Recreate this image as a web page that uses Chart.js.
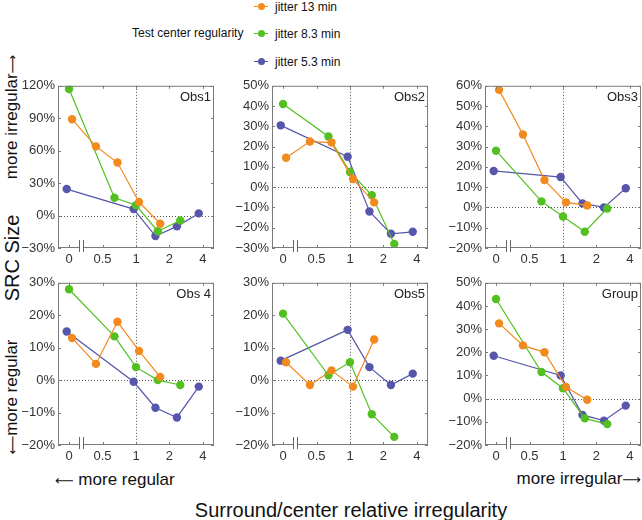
<!DOCTYPE html>
<html>
<head>
<meta charset="utf-8">
<script src="https://cdn.jsdelivr.net/npm/chart.js@4.4.1/dist/chart.umd.min.js"></script>
<style>
  body { margin: 0; background: #fff; }
  #wrap { position: relative; width: 642px; height: 520px; overflow: hidden;
          font-family: "Liberation Sans", Helvetica, Arial, sans-serif; color: #111; }
  canvas { position: absolute; }
  .txt { position: absolute; white-space: nowrap; }
  .rot { transform: translate(-50%, -50%) rotate(-90deg); }
  .ctr { transform: translate(-50%, -50%); }
  .arr { font-family: "DejaVu Sans", sans-serif; font-size: 13px; }
  .leg { position: absolute; font-size: 12px; white-space: nowrap; transform: translateY(-50%); }
  .mk { position: absolute; width: 14px; height: 1.5px; }
  .dot { position: absolute; width: 7px; height: 7px; border-radius: 50%; }
</style>
</head>
<body>
<div id="wrap">
  <div class="txt" style="left:132px; top:33px; font-size:12px; transform:translateY(-50%)">Test center regularity</div>
  <div id="legend"></div>

  <div class="txt rot" style="left:12px; top:117px; font-size:17px">more irregular<span class="arr">⟶</span></div>
  <div class="txt rot" style="left:12px; top:258px; font-size:20px">SRC Size</div>
  <div class="txt rot" style="left:12px; top:397px; font-size:17px"><span class="arr">⟵</span>more regular</div>

  <div class="txt" style="left:55px; top:480px; font-size:17px; transform:translateY(-50%)"><span class="arr">⟵</span> more regular</div>
  <div class="txt" style="right:1px; top:479px; font-size:17px; transform:translateY(-50%)">more irregular<span class="arr">⟶</span></div>
  <div class="txt ctr" style="left:351px; top:510px; font-size:20px">Surround/center relative irregularity</div>
</div>
<script>
// x axis: tick labels (surround/center jitter ratio), placed at equal steps
const xTickLabels = ['0', '0.5', '1', '2', '4'];

const seriesNames = ['jitter 13 min', 'jitter 8.3 min', 'jitter 5.3 min'];
const seriesColors = ['#f28a1e', '#52c020', '#5656aa'];
// small sideways shift of each series so markers don't sit on each other
const seriesShift = [0.09, 0, -0.07];

// surround/center jitter ratio of each point, per series
const xOrange = [0, 0.41, 0.64, 1, 1.55];
const xGreen = [0, 0.64, 1, 1.57, 2.5];
const xBlue = [0, 1, 1.57, 2.45, 3.85];

// SRC size (%)
const obs1Orange = [89, 64, 49, 12.5, -7.5];
const obs1Green = [117, 16.5, 9.5, -14.5, -4.5];
const obs1Blue = [24.5, 6, -19, -10, 2];

const obs2Orange = [14.5, 22.5, 22, 4, -7.5];
const obs2Green = [41, 25, 7.5, -4, -28];
const obs2Blue = [30.5, 15, -12, -23, -22];

const obs3Orange = [58, 36, 13.5, 2.5, 1];
const obs3Green = [28, 3, -4.5, -12, -0.5];
const obs3Blue = [18, 15, 2, 0, 9.5];

const obs4Orange = [13, 5, 18, 9, 1];
const obs4Green = [28, 13.5, 4, 0, -1.5];
const obs4Blue = [15, -0.5, -8.5, -11.5, -2];

const obs5Orange = [5.5, -1.5, 3, -2, 12.5];
const obs5Green = [20.5, 1.5, 5.5, -10.5, -17.5];
const obs5Blue = [6, 15.5, 4, -1.5, 2];

const groupOrange = [32.5, 23, 20, 5, -0.5];
const groupGreen = [43, 11.5, 4.5, -8.5, -11];
const groupBlue = [18.5, 10, -7, -9.5, -3];

const panelNames = ['Obs1', 'Obs2', 'Obs3', 'Obs 4', 'Obs5', 'Group'];
const panelYMin = [-30, -30, -20, -20, -20, -20];
const panelYMax = [120, 50, 60, 30, 30, 50];
const panelYStep = [30, 10, 10, 10, 10, 10];
const panelSeries = [
  [obs1Orange, obs1Green, obs1Blue],
  [obs2Orange, obs2Green, obs2Blue],
  [obs3Orange, obs3Green, obs3Blue],
  [obs4Orange, obs4Green, obs4Blue],
  [obs5Orange, obs5Green, obs5Blue],
  [groupOrange, groupGreen, groupBlue],
];
const seriesX = [xOrange, xGreen, xBlue];

// layout
const colLeft = [58, 272, 485];
const rowTop = [85, 282];
const plotW = 156, plotH = 163;
const padL = 50, padT = 10, padR = 6, padB = 30;

// ratio -> axis position (0 sits one step left of 0.5, the rest is log2)
const toAxis = r => r === 0 ? 0 : Math.log2(r) + 2;

const font = { family: '"Liberation Sans", Helvetica, Arial, sans-serif', size: 13 };

// legend
const legend = document.getElementById('legend');
seriesNames.forEach((name, i) => {
  const y = [6, 33, 61][i];
  legend.insertAdjacentHTML('beforeend',
    `<div class="mk" style="left:254px; top:${y - 0.5}px; background:${seriesColors[i]}"></div>` +
    `<div class="dot" style="left:258px; top:${y - 3}px; background:${seriesColors[i]}"></div>` +
    `<div class="leg" style="left:275px; top:${y + 1}px">${name}</div>`);
});

const framePlugin = {
  id: 'frame',
  beforeDatasetsDraw(chart) {
    const { ctx, chartArea: a, scales: { x, y } } = chart;
    ctx.save();
    ctx.strokeStyle = '#555';
    ctx.lineWidth = 1;
    ctx.setLineDash([1, 2]);
    const px = Math.round(x.getPixelForValue(toAxis(1))) + 0.5;
    const py = Math.round(y.getPixelForValue(0)) + 0.5;
    ctx.beginPath();
    ctx.moveTo(px, a.top); ctx.lineTo(px, a.bottom);
    ctx.moveTo(a.left, py); ctx.lineTo(a.right, py);
    ctx.stroke();
    ctx.restore();
  },
  afterDraw(chart) {
    const { ctx, chartArea: a, scales: { x, y } } = chart;
    ctx.save();
    ctx.strokeStyle = '#7a7a7a';
    ctx.lineWidth = 1;
    ctx.strokeRect(a.left + 0.5, a.top + 0.5, a.right - a.left - 1, a.bottom - a.top - 1);
    ctx.beginPath();
    x.ticks.forEach(t => {
      const px = Math.round(x.getPixelForValue(t.value)) + 0.5;
      ctx.moveTo(px, a.bottom); ctx.lineTo(px, a.bottom - 3);
      ctx.moveTo(px, a.top); ctx.lineTo(px, a.top + 3);
    });
    y.ticks.forEach(t => {
      const py = Math.round(y.getPixelForValue(t.value)) + 0.5;
      ctx.moveTo(a.left, py); ctx.lineTo(a.left + 3, py);
      ctx.moveTo(a.right, py); ctx.lineTo(a.right - 3, py);
    });
    ctx.stroke();

    // axis break mark
    const bx = Math.round(x.getPixelForValue(0.36));
    ctx.fillStyle = '#fff';
    ctx.fillRect(bx - 2, a.bottom - 2, 4, 3);
    ctx.strokeStyle = '#666';
    ctx.beginPath();
    ctx.moveTo(bx - 1.5, a.bottom - 8); ctx.lineTo(bx - 1.5, a.bottom + 4);
    ctx.moveTo(bx + 2.5, a.bottom - 8); ctx.lineTo(bx + 2.5, a.bottom + 4);
    ctx.stroke();

    // panel name
    ctx.fillStyle = '#222';
    ctx.font = `13px ${font.family}`;
    ctx.textAlign = 'right';
    ctx.textBaseline = 'middle';
    ctx.fillText(chart.options.plugins.frame.name, a.right - 3, a.top + 12);
    ctx.restore();
  }
};

const wrap = document.getElementById('wrap');
panelNames.forEach((name, p) => {
  const left = colLeft[p % 3], top = rowTop[Math.floor(p / 3)];
  const cv = document.createElement('canvas');
  cv.width = padL + plotW + padR;
  cv.height = padT + plotH + padB;
  cv.style.left = (left - padL) + 'px';
  cv.style.top = (top - padT) + 'px';
  wrap.appendChild(cv);

  const datasets = panelSeries[p].map((ys, s) => ({
    label: seriesNames[s],
    data: ys.map((v, i) => ({ x: toAxis(seriesX[s][i]) + seriesShift[s], y: v })),
    showLine: true,
    borderColor: seriesColors[s],
    backgroundColor: seriesColors[s],
    borderWidth: 1.2,
    pointRadius: 4.2,
    pointHoverRadius: 4.2,
    pointBorderWidth: 0,
    tension: 0,
  }));

  new Chart(cv, {
    type: 'scatter',
    data: { datasets },
    plugins: [framePlugin],
    options: {
      responsive: false,
      animation: false,
      layout: { padding: { top: padT, right: padR, left: 0, bottom: 0 } },
      plugins: {
        legend: { display: false },
        tooltip: { enabled: false },
        frame: { name },
      },
      scales: {
        x: {
          type: 'linear',
          min: -0.33,
          max: 4.33,
          grid: { display: false, drawTicks: false },
          border: { display: false },
          afterBuildTicks: s => { s.ticks = xTickLabels.map((_, i) => ({ value: i })); },
          afterFit: s => { s.height = padB; },
          ticks: {
            callback: (v, i) => xTickLabels[i],
            padding: 4, color: '#333', font, autoSkip: false, maxRotation: 0,
          },
        },
        y: {
          min: panelYMin[p],
          max: panelYMax[p],
          grid: { display: false, drawTicks: false },
          border: { display: false },
          afterFit: s => { s.width = padL; },
          ticks: {
            stepSize: panelYStep[p],
            callback: v => (v < 0 ? '\u2212' + (-v) : v) + '%',
            padding: 3, color: '#333', font,
          },
        },
      },
    },
  });
});
</script>
</body>
</html>
